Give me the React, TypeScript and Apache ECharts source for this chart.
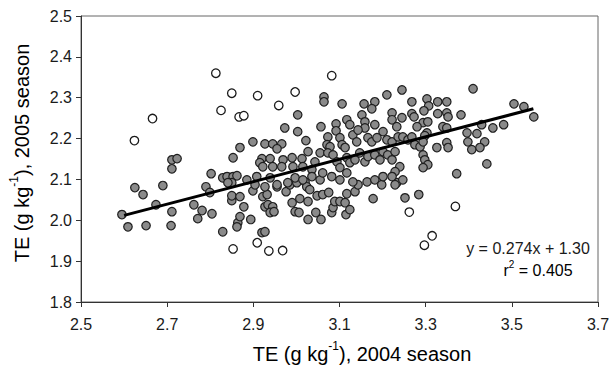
import React, { useEffect, useRef } from "react";
import * as echarts from "echarts";

// TE 2004 season (x) vs TE 2005 season (y), g kg-1
const grayPoints: [number, number][] = [
  [2.711, 2.148], [2.723, 2.151], [2.711, 2.126], [2.802, 2.114], [2.829, 2.104], [2.625, 2.080], [2.690, 2.085],
  [2.790, 2.082], [2.644, 2.063], [2.799, 2.068], [2.674, 2.038], [2.595, 2.014], [2.609, 1.984], [2.651, 1.987],
  [2.711, 2.021], [2.709, 1.987], [2.762, 2.038], [2.781, 2.024], [2.771, 2.004], [2.804, 2.016], [2.829, 1.972],
  [2.853, 2.153], [2.839, 2.107], [2.853, 2.107], [2.862, 2.109], [2.850, 2.092], [2.841, 2.092], [2.864, 1.994],
  [2.862, 1.984], [2.869, 2.009], [2.850, 2.048], [2.850, 2.060],
  [2.878, 2.033], [2.894, 2.002], [2.899, 2.072], [2.920, 1.970], [2.927, 1.972], [2.922, 2.058], [2.932, 2.063],
  [2.927, 2.033], [2.934, 2.038], [2.945, 2.033], [2.939, 2.019], [2.948, 2.021], [2.955, 2.082], [2.976, 2.070],
  [2.990, 2.043], [2.997, 2.021], [3.006, 2.019], [3.008, 2.053], [3.027, 2.046], [3.048, 2.060], [3.061, 2.063],
  [3.075, 2.068], [3.027, 2.002], [3.045, 2.019], [3.057, 2.002], [3.082, 2.019], [3.085, 2.031], [3.089, 2.046],
  [3.101, 2.046], [3.113, 2.043], [3.115, 2.014], [3.117, 2.065], [2.985, 2.087], [3.001, 2.092], [3.020, 2.094],
  [3.024, 2.082], [2.869, 2.058], [3.031, 2.075], [3.124, 2.026], [3.136, 2.070], [3.143, 2.087], [3.178, 2.053],
  [3.252, 2.055], [3.233, 2.092],
  [3.064, 2.302], [3.064, 2.290], [3.106, 2.285], [3.157, 2.285], [3.182, 2.290], [3.175, 2.273], [3.210, 2.307],
  [3.245, 2.319], [3.003, 2.258], [2.973, 2.226], [3.057, 2.229], [3.092, 2.236], [3.092, 2.219], [3.117, 2.246],
  [3.124, 2.234], [3.152, 2.258], [3.159, 2.241], [3.159, 2.226], [3.182, 2.234], [3.222, 2.263], [3.222, 2.246],
  [3.233, 2.229], [3.245, 2.251], [3.003, 2.217], [3.022, 2.195], [2.899, 2.192], [2.869, 2.178], [2.927, 2.187],
  [2.945, 2.187], [2.966, 2.187], [2.955, 2.175], [3.073, 2.204], [3.071, 2.185], [3.078, 2.180], [3.101, 2.202],
  [3.106, 2.185], [3.113, 2.178], [3.131, 2.209], [3.140, 2.192], [3.166, 2.202], [3.175, 2.192], [3.187, 2.202],
  [3.201, 2.217], [3.210, 2.197], [3.222, 2.192], [3.236, 2.204], [3.247, 2.204], [3.259, 2.197], [3.055, 2.165],
  [3.073, 2.165], [2.920, 2.151], [2.915, 2.141], [2.922, 2.131], [2.939, 2.151], [2.945, 2.131], [2.969, 2.148],
  [2.966, 2.131], [2.990, 2.153], [2.992, 2.131], [3.013, 2.151], [3.015, 2.131], [3.027, 2.168], [3.043, 2.143],
  [3.036, 2.124], [3.085, 2.160], [3.094, 2.143], [3.101, 2.129], [3.117, 2.153], [3.124, 2.141], [3.136, 2.148],
  [3.147, 2.165], [3.159, 2.143], [3.166, 2.156], [3.182, 2.160], [3.194, 2.148], [3.201, 2.168], [3.212, 2.160],
  [3.222, 2.148], [3.229, 2.168], [3.240, 2.131], [3.229, 2.119], [2.885, 2.099], [2.908, 2.107], [2.904, 2.087],
  [2.939, 2.104], [2.927, 2.082], [2.955, 2.087], [2.980, 2.092], [2.997, 2.104], [3.015, 2.099], [3.036, 2.107],
  [3.055, 2.099], [3.061, 2.116], [3.082, 2.107], [3.101, 2.099], [3.117, 2.116], [3.131, 2.094], [3.164, 2.094],
  [3.182, 2.099], [3.198, 2.087], [3.201, 2.107], [3.222, 2.107], [3.229, 2.087], [3.247, 2.099], [3.143, 2.221],
  [3.410, 2.322], [3.268, 2.290], [3.303, 2.297], [3.307, 2.280], [3.328, 2.290], [3.349, 2.290], [3.296, 2.268],
  [3.268, 2.261], [3.273, 2.253], [3.328, 2.261], [3.349, 2.263], [3.352, 2.253], [3.382, 2.258], [3.294, 2.239],
  [3.305, 2.241], [3.280, 2.229], [3.340, 2.229], [3.349, 2.226], [3.303, 2.214], [3.268, 2.204], [3.298, 2.207],
  [3.275, 2.185], [3.287, 2.180], [3.294, 2.192], [3.326, 2.178], [3.349, 2.190], [3.352, 2.178], [3.294, 2.160],
  [3.298, 2.148], [3.305, 2.136], [3.294, 2.129], [3.396, 2.214], [3.419, 2.212], [3.430, 2.234], [3.437, 2.192],
  [3.398, 2.192], [3.407, 2.173], [3.426, 2.178], [3.456, 2.226], [3.481, 2.234], [3.505, 2.285], [3.528, 2.278],
  [3.551, 2.253], [3.442, 2.138], [3.372, 2.114], [3.284, 2.063],
];

const openPoints: [number, number][] = [
  [2.813, 2.360], [2.825, 2.269], [2.666, 2.249], [2.624, 2.195], [3.082, 2.354], [2.850, 2.311], [2.910, 2.305],
  [2.997, 2.314], [2.959, 2.281], [2.867, 2.253], [2.878, 2.256], [2.853, 1.930], [2.909, 1.945], [2.936, 1.925],
  [2.968, 1.926], [3.262, 2.020], [3.369, 2.034], [3.315, 1.962], [3.297, 1.939],
];

const fitLine: [number, number][] = [[2.6, 2.012], [3.55, 2.273]];
const equationLabel = "y = 0.274x + 1.30";
const r2Value = "0.405";
const xTitleYear = "2004";
const yTitleYear = "2005";

const FONT = "'Liberation Sans', Arial, Helvetica, sans-serif";
const TXT = "#1a1a1a";

export default function App() {
  const ref = useRef<HTMLDivElement>(null);
  useEffect(() => {
    const chart = echarts.init(ref.current!, null, { renderer: "svg" });
    const titleRich = {
      a: { fontSize: 20, fontFamily: FONT, color: TXT, lineHeight: 28 },
      s: { fontSize: 12, fontFamily: FONT, color: TXT, verticalAlign: "top", lineHeight: 15 },
    };
    chart.setOption({
      animation: false,
      grid: { left: 81, right: 16, top: 16, bottom: 67, show: true, borderColor: "#666", borderWidth: 1 },
      xAxis: {
        type: "value",
        min: 2.5,
        max: 3.7,
        interval: 0.2,
        axisLine: { show: true, onZero: false, lineStyle: { color: "#333", width: 1 } },
        axisTick: { show: true, length: 5, lineStyle: { color: "#333" } },
        splitLine: { show: false },
        axisLabel: { fontSize: 16, fontFamily: FONT, color: TXT, margin: 14, formatter: (v: number) => v.toFixed(1) },
      },
      yAxis: {
        type: "value",
        min: 1.8,
        max: 2.5,
        interval: 0.1,
        axisLine: { show: true, onZero: false, lineStyle: { color: "#333", width: 1 } },
        axisTick: { show: true, length: 5, lineStyle: { color: "#333" } },
        splitLine: { show: false },
        axisLabel: { fontSize: 16, fontFamily: FONT, color: TXT, margin: 9, formatter: (v: number) => v.toFixed(1) },
      },
      series: [
        {
          type: "scatter",
          data: openPoints,
          symbol: "circle",
          symbolSize: 8.5,
          itemStyle: { color: "#ffffff", borderColor: "#1a1a1a", borderWidth: 1.3, opacity: 1 },
          z: 2,
        },
        {
          type: "scatter",
          data: grayPoints,
          symbol: "circle",
          symbolSize: 8.5,
          itemStyle: { color: "#8a8a8a", borderColor: "#1e1e1e", borderWidth: 1.2, opacity: 1 },
          z: 3,
        },
        {
          type: "line",
          data: fitLine,
          symbol: "none",
          lineStyle: { color: "#000", width: 3 },
          z: 5,
        },
      ],
      graphic: [
        {
          type: "text",
          x: 362,
          y: 354,
          style: {
            text: `{a|TE (g kg}{s|-1}{a|), ${xTitleYear} season}`,
            rich: titleRich,
            align: "center",
            verticalAlign: "middle",
          },
        },
        {
          type: "text",
          x: 22,
          y: 153,
          rotation: Math.PI / 2,
          style: {
            text: `{a|TE (g kg}{s|-1}{a|), ${yTitleYear} season}`,
            rich: titleRich,
            align: "center",
            verticalAlign: "middle",
          },
        },
        {
          type: "text",
          x: 528,
          y: 248,
          style: { text: equationLabel, fontSize: 16, fontFamily: FONT, fill: TXT, align: "center", verticalAlign: "middle" },
        },
        {
          type: "text",
          x: 538,
          y: 270,
          style: {
            text: `{a|r}{s|2}{a| = ${r2Value}}`,
            rich: {
              a: { fontSize: 16, fontFamily: FONT, color: TXT, lineHeight: 22 },
              s: { fontSize: 10, fontFamily: FONT, color: TXT, verticalAlign: "top", lineHeight: 12 },
            },
            align: "center",
            verticalAlign: "middle",
          },
        },
      ],
    });
    return () => chart.dispose();
  }, []);
  return <div ref={ref} style={{ position: "fixed", left: 0, top: 0, width: 614, height: 369, background: "#fff" }} />;
}
